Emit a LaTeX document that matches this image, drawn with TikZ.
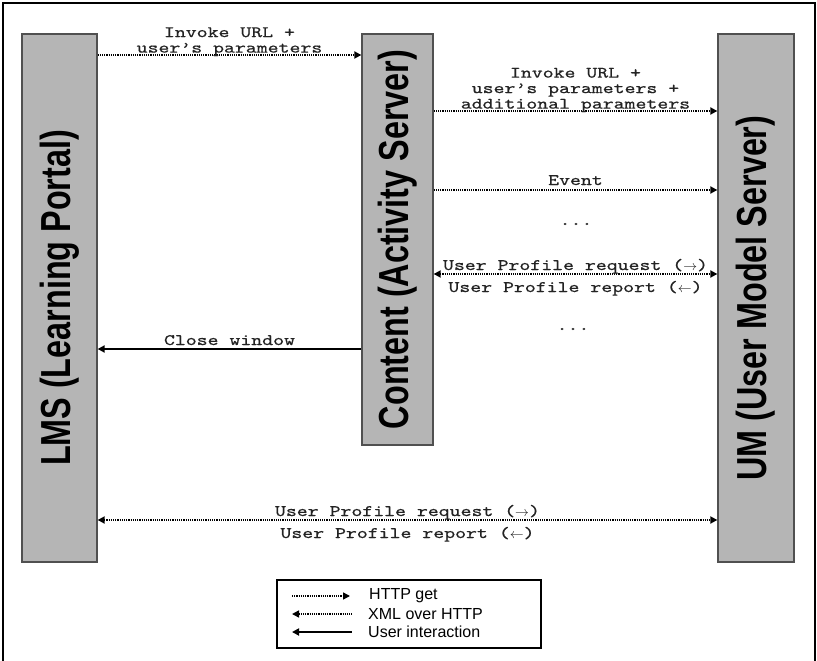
\documentclass[tikz,border=0pt]{standalone}
\usepackage{fontspec}
\setmainfont{Liberation Sans}
\newfontfamily\monofnt{lmmono10-regular}[Extension=.otf, FakeStretch=1.3, FakeBold=0.6]
\usetikzlibrary{arrows.meta}
\definecolor{boxfill}{RGB}{181,181,181}
\definecolor{boxline}{RGB}{80,80,80}
\definecolor{txt}{RGB}{35,35,35}
\newcommand{\rarr}{\scalebox{0.8}{$\rightarrow$}}
\newcommand{\larr}{\scalebox{0.8}{$\leftarrow$}}
\tikzset{
  server/.style={draw=boxline, fill=boxfill, line width=1.3pt, inner sep=0pt},
  srvlabel/.style={rotate=90, inner sep=0pt, font=\bfseries\fontsize{42}{42}\selectfont},
  msg/.style={text=txt, inner sep=0pt, align=center, font=\monofnt\fontsize{16}{15.5}\selectfont},
  httpget/.style={line width=1.7pt, dash pattern=on 1.1pt off 1.1pt, -{Triangle[length=7pt,width=7pt]}},
  xmlhttp/.style={line width=1.7pt, dash pattern=on 1.1pt off 1.1pt, {Triangle[length=7pt,width=7pt]}-{Triangle[length=7pt,width=7pt]}},
  xmlleft/.style={line width=1.5pt, dash pattern=on 1.1pt off 1.1pt, {Triangle[length=7pt,width=7pt]}-},
  userint/.style={line width=1.8pt, {Triangle[length=7pt,width=7pt]}-},
  legtext/.style={anchor=west, inner sep=0pt, font=\fontsize{16}{16}\selectfont}
}
\begin{document}
\begin{tikzpicture}[x=1pt,y=-1pt]
\useasboundingbox (0,0) rectangle (817,661);
\fill[white] (0,0) rectangle (817,661);
\draw[line width=1.6pt] (3,662) -- (3,3) -- (815,3) -- (815,662);

% servers
\node[server, minimum width=75, minimum height=528] (lms) at (59.5,298) {};
\node[server, minimum width=71, minimum height=411] (content) at (397.5,239.5) {};
\node[server, minimum width=76, minimum height=528] (um) at (756,298) {};
\node[srvlabel] (lmslbl) at (lms.center) {\scalebox{0.77}[1]{LMS (Learning Portal)}};
\node[srvlabel] (contentlbl) at (content.center) {\scalebox{0.77}[1]{Content (Activity Server)}};
\node[srvlabel] (umlbl) at (um.center) {\scalebox{0.77}[1]{UM (User Model Server)}};

% messages
\draw[httpget] (lms.east |- 0,55) -- (content.west |- 0,55)
  node[msg, midway, anchor=south, yshift=-2pt] (m1) {Invoke URL +\\user’s parameters};
\draw[httpget] (content.east |- 0,111) -- (um.west |- 0,111)
  node[msg, midway, anchor=south, yshift=-2pt] (m2) {Invoke URL +\\user’s parameters +\\additional parameters};
\draw[httpget] (content.east |- 0,190) -- (um.west |- 0,190)
  node[msg, midway, anchor=base, yshift=5pt] (m3) {Event};
\node[msg, anchor=base] (dots1) at (576,225) {...};
\draw[xmlhttp] (content.east |- 0,274) -- (um.west |- 0,274)
  node[msg, midway, anchor=base, yshift=4pt] (m4) {User Profile request (\rarr)}
  node[msg, midway, anchor=base, yshift=-18pt] (m5) {User Profile report (\larr)};
\node[msg, anchor=base] (dots2) at (573,330) {...};
\draw[userint] (lms.east |- 0,349) -- (content.west |- 0,349)
  node[msg, midway, anchor=base, yshift=4pt] (m6) {Close window};
\draw[xmlhttp] (lms.east |- 0,520) -- (um.west |- 0,520)
  node[msg, midway, anchor=base, yshift=4pt] (m7) {User Profile request (\rarr)}
  node[msg, midway, anchor=base, yshift=-18pt] (m8) {User Profile report (\larr)};

% legend
\node[draw, line width=2.5pt, minimum width=264, minimum height=68, inner sep=0pt] (legend) at (409,614) {};
\coordinate (l1a) at (292,596); \coordinate (l1b) at (350,596);
\coordinate (l2a) at (292,614); \coordinate (l2b) at (352,614);
\coordinate (l3a) at (292,632); \coordinate (l3b) at (352,632);
\draw[httpget, line width=1.5pt] (l1a) -- (l1b);
\draw[xmlleft] (l2a) -- (l2b);
\draw[userint] (l3a) -- (l3b);
\node[legtext] (t1) at (369,596) {HTTP get};
\node[legtext] (t2) at (368,614) {XML over HTTP};
\node[legtext] (t3) at (368,632) {User interaction};
\end{tikzpicture}
\end{document}
